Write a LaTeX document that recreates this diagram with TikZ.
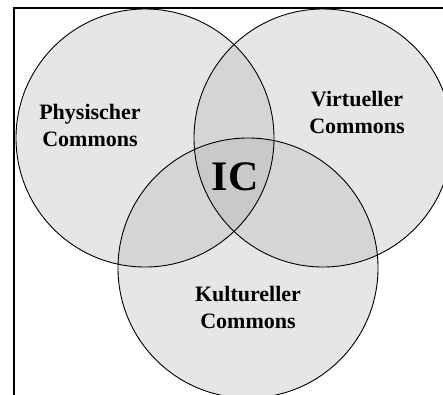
\documentclass[tikz,border=0pt]{standalone}
\usepackage{fontspec}
\setmainfont{Liberation Serif}
\definecolor{one}{RGB}{230,230,230}
\definecolor{two}{RGB}{213,213,213}
\definecolor{three}{RGB}{201,201,201}
\begin{document}
\begin{tikzpicture}[x=1pt,y=-1pt,
  venn/.style={circle, inner sep=0pt, draw=black, line width=0.9pt},
  lbl/.style={font=\bfseries\fontsize{22}{27}\selectfont, align=center, text=black}]
\useasboundingbox (0,0) rectangle (443,394);
\clip (0,0) rectangle (443,394);
\fill[white] (0,0) rectangle (443,394);
\draw[line width=2pt] (14,400) -- (14,8) -- (450,8);
% fills
\fill[one] (145,138) circle (129) (323,138) circle (129) (248,268) circle (130);
\begin{scope}\clip (145,138) circle (129); \fill[two] (323,138) circle (129) (248,268) circle (130);\end{scope}
\begin{scope}\clip (323,138) circle (129); \fill[two] (248,268) circle (130);\end{scope}
\begin{scope}\clip (145,138) circle (129); \clip (323,138) circle (129); \fill[three] (248,268) circle (130);\end{scope}
\node[venn, minimum size=258pt] (phys) at (145,138) {};
\node[venn, minimum size=258pt] (virt) at (323,138) {};
\node[venn, minimum size=260pt] (kult) at (248,268) {};
\node[lbl] (tphys) at (90,125) {Physischer\\Commons};
\node[lbl] (tvirt) at (357,112) {Virtueller\\Commons};
\node[lbl] (tkult) at (248,307) {Kultureller\\Commons};
\node[font=\bfseries\fontsize{42}{42}\selectfont] (ic) at (235,177) {IC};
\end{tikzpicture}
\end{document}
